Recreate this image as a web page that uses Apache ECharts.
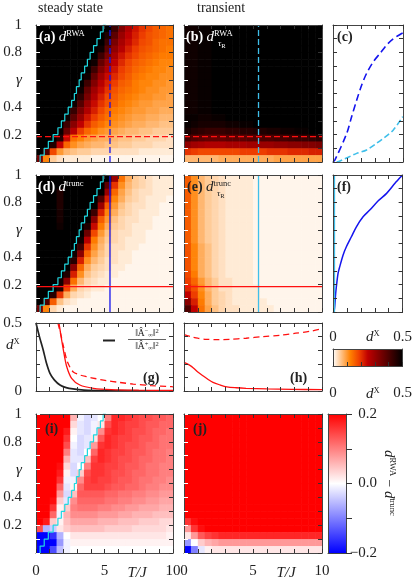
<!DOCTYPE html>
<html>
<head>
<meta charset="utf-8">
<script src="https://cdn.jsdelivr.net/npm/echarts@6/dist/echarts.min.js"></script>
<style>
  html, body { margin: 0; padding: 0; background: #fff; }
  #chart { width: 415px; height: 585px; }
</style>
</head>
<body>
<div id="chart"></div>
<script>
const FONT = 'Liberation Serif';

// heatmap cell centres
const T_CENTERS = [0.25, 0.75, 1.25, 1.75, 2.25, 2.75, 3.25, 3.75, 4.25, 4.75, 5.25, 5.75, 6.25, 6.75, 7.25, 7.75, 8.25, 8.75, 9.25, 9.75];
const G_ROWS = [0.975, 0.925, 0.875, 0.825, 0.775, 0.725, 0.675, 0.625, 0.575, 0.525, 0.475, 0.425, 0.375, 0.325, 0.275, 0.225, 0.175, 0.125, 0.075, 0.025];

// (a) d^RWA steady state, rows top -> bottom, values x100
const D_RWA_SS = [
  [50,50,50,50,50,50,50,50,50,50,50,42,33,27,23,20,18,16,15,14],
  [50,50,50,50,50,50,50,50,50,50,46,38,30,25,22,19,17,16,15,14],
  [50,50,50,50,50,50,50,50,50,50,42,34,28,24,21,18,17,15,14,14],
  [50,50,50,50,50,50,50,50,50,48,38,31,26,22,19,17,16,15,14,13],
  [50,50,50,50,50,50,50,50,50,42,34,28,23,20,18,16,15,14,13,13],
  [50,50,50,50,50,50,50,50,48,37,30,25,21,18,16,15,14,13,12,12],
  [50,50,50,50,50,50,50,50,42,33,27,23,19,17,15,14,13,12,12,11],
  [50,50,50,50,50,50,50,48,37,29,24,21,18,16,14,13,12,12,11,11],
  [50,50,50,50,50,50,50,42,33,26,22,19,16,15,13,12,12,11,11,10],
  [50,50,50,50,50,50,48,37,29,24,20,17,15,14,13,12,11,11,10,10],
  [50,50,50,50,50,50,44,34,27,22,18,16,14,13,12,11,11,10,10,9],
  [50,50,50,50,50,48,39,30,24,20,17,15,13,12,11,10,10,9,9,9],
  [50,50,50,50,50,43,34,27,22,18,15,13,12,11,10,10,9,9,8,8],
  [50,50,50,50,48,38,30,23,19,16,14,12,11,10,9,9,8,8,7,7],
  [50,50,50,50,42,32,25,20,16,14,12,11,10,9,8,8,7,7,6,6],
  [50,50,50,49,36,26,19,15,13,11,10,9,8,7,7,6,6,5,5,5],
  [50,50,50,45,24,14,12,10,9,8,8,7,6,6,5,5,4,4,4,3],
  [50,50,46,25,15,11,9,8,7,7,6,6,5,5,4,4,4,3,3,3],
  [50,40,18,10,7,6,5,5,4,4,4,3,3,3,3,2,2,2,2,2],
  [35,12,5,3,2,2,2,2,1,1,1,1,1,1,1,1,1,1,1,1]
];

// (b) d^RWA transient
const D_RWA_TR = [
  [48,48,49,49,50,50,50,50,50,50,50,50,50,50,50,50,50,50,50,50],
  [48,48,49,49,50,50,50,50,50,50,50,50,50,50,50,50,50,50,50,50],
  [48,48,49,49,50,50,50,50,50,50,50,50,50,50,50,50,50,50,50,50],
  [48,48,49,49,50,50,50,50,50,50,50,50,50,50,50,50,50,50,50,50],
  [48,48,49,49,50,50,50,50,50,50,50,50,50,50,50,50,50,50,50,50],
  [48,48,49,49,50,50,50,50,50,50,50,50,50,50,50,50,50,50,50,50],
  [48,48,49,49,50,50,50,50,50,50,50,50,50,50,50,50,50,50,50,50],
  [48,48,49,49,50,50,50,50,50,50,50,50,50,50,50,50,50,50,50,50],
  [48,48,49,49,50,50,50,50,50,50,50,50,50,50,50,50,50,50,50,50],
  [48,48,49,49,50,50,50,50,50,50,50,50,50,50,50,50,50,50,50,50],
  [48,48,49,49,50,50,50,50,50,50,50,50,50,50,50,50,50,50,50,50],
  [48,48,49,49,50,50,50,50,50,50,50,50,50,50,50,50,50,50,50,50],
  [48,48,49,49,50,50,50,50,50,50,50,50,50,50,50,50,50,50,50,50],
  [49,49,48,48,49,49,50,50,50,50,50,50,50,50,50,50,50,50,50,50],
  [49,48,47,47,47,47,48,48,49,49,50,50,50,50,50,50,50,50,50,50],
  [47,45,44,43,43,43,44,44,45,45,46,46,47,47,48,48,49,49,50,50],
  [41,39,38,37,37,37,38,38,38,39,39,40,40,41,41,42,43,43,44,45],
  [31,29,28,27,27,27,28,28,28,29,29,30,30,31,31,32,32,33,33,34],
  [20,19,18,18,18,18,18,18,19,19,19,19,20,20,20,21,21,21,22,22],
  [7,7,7,7,7,8,8,8,8,8,8,8,8,9,9,9,9,9,9,9]
];

// (d) d^trunc steady state
const D_TRUNC_SS = [
  [50,50,50,50,50,50,50,50,50,50,50,30,14,8,5,4,3,2,2,2],
  [50,50,50,50,50,50,50,50,50,50,38,20,11,7,5,4,3,2,2,2],
  [50,50,50,46,50,50,50,50,50,50,30,15,9,6,4,3,3,2,2,2],
  [50,50,50,46,50,50,50,50,50,40,22,12,8,5,4,3,2,2,2,1],
  [50,50,50,46,50,50,50,50,50,30,16,10,6,4,3,3,2,2,1,1],
  [50,50,50,47,50,50,50,50,42,22,12,8,5,4,3,2,2,2,1,1],
  [50,50,50,47,50,50,50,50,32,16,10,6,4,3,3,2,2,1,1,1],
  [50,50,50,48,50,50,50,46,24,13,8,5,4,3,2,2,2,1,1,1],
  [50,50,50,50,50,50,50,36,18,10,6,4,3,3,2,2,1,1,1,1],
  [50,50,50,50,50,50,48,26,13,8,5,4,3,2,2,2,1,1,1,1],
  [50,50,50,50,50,50,42,20,11,7,4,3,3,2,2,1,1,1,1,1],
  [50,50,50,50,50,48,32,15,9,6,4,3,2,2,1,1,1,1,1,1],
  [50,50,50,50,50,45,22,11,7,5,3,3,2,2,1,1,1,1,1,1],
  [50,50,50,50,50,32,15,8,5,4,3,2,2,1,1,1,1,1,1,1],
  [50,50,50,50,46,22,11,6,4,3,2,2,1,1,1,1,1,1,1,1],
  [50,50,50,48,32,14,7,4,3,2,2,1,1,1,1,1,1,1,1,1],
  [50,50,50,46,18,8,4,3,2,2,1,1,1,1,1,1,1,1,1,1],
  [50,50,45,20,8,4,3,2,1,1,1,1,1,1,1,1,1,1,1,1],
  [50,40,16,6,3,2,1,1,1,1,1,1,1,1,1,1,1,1,1,1],
  [35,12,4,2,1,1,1,1,1,1,1,1,1,1,1,1,1,1,1,1]
];

// (e) d^trunc transient
const D_TRUNC_TR = [
  [16,11,7,5,4,3,2,2,2,2,1,1,1,1,1,1,1,1,1,1],
  [16,11,7,5,4,3,2,2,2,2,1,1,1,1,1,1,1,1,1,1],
  [16,11,7,5,4,3,2,2,2,2,1,1,1,1,1,1,1,1,1,1],
  [16,11,7,5,4,3,2,2,2,2,1,1,1,1,1,1,1,1,1,1],
  [16,11,7,5,4,3,2,2,2,2,1,1,1,1,1,1,1,1,1,1],
  [16,11,7,5,4,3,2,2,2,2,1,1,1,1,1,1,1,1,1,1],
  [16,11,7,5,4,3,2,2,2,2,1,1,1,1,1,1,1,1,1,1],
  [16,11,7,5,4,3,2,2,2,2,1,1,1,1,1,1,1,1,1,1],
  [16,11,7,5,4,3,2,2,2,2,1,1,1,1,1,1,1,1,1,1],
  [16,11,7,5,4,3,2,2,2,2,1,1,1,1,1,1,1,1,1,1],
  [17,12,8,6,4,3,2,2,2,2,1,1,1,1,1,1,1,1,1,1],
  [17,12,8,6,4,3,2,2,2,2,1,1,1,1,1,1,1,1,1,1],
  [17,12,8,6,4,3,2,2,2,2,1,1,1,1,1,1,1,1,1,1],
  [17,12,8,6,4,3,2,2,2,2,1,1,1,1,1,1,1,1,1,1],
  [18,13,8,6,4,3,2,2,2,2,1,1,1,1,1,1,1,1,1,1],
  [19,15,10,7,5,3,3,2,2,2,1,1,1,1,1,1,1,1,1,1],
  [21,17,11,7,5,3,3,2,2,2,2,1,1,1,1,1,1,1,1,1],
  [25,19,12,8,5,4,3,2,2,2,2,1,1,1,1,1,1,1,1,1],
  [32,22,13,8,5,4,3,2,2,2,2,2,1,1,1,1,1,1,1,1],
  [40,25,14,9,6,4,3,3,2,2,2,2,2,1,1,1,1,1,1,1]
];

// (i) d^RWA - d^trunc steady state, x100
const DIFF_SS = [
  [20,20,20,20,20,6,-1,-3,-2,0,10,17,17,16,15,14,14,13,13,12],
  [20,20,20,20,20,3,-2,-3,-1,2,14,17,16,15,15,14,13,13,12,12],
  [20,20,20,20,18,1,-2,-3,-1,9,16,17,16,15,14,14,13,12,12,11],
  [20,20,20,20,16,0,-3,-2,2,13,17,16,15,15,14,13,13,12,11,11],
  [20,20,20,20,14,-1,-3,-2,8,16,17,16,15,14,14,13,12,12,11,11],
  [20,20,20,20,10,-2,-3,0,12,17,16,15,15,14,13,13,12,11,11,10],
  [20,20,20,20,6,-2,-2,5,15,17,16,15,14,14,13,12,12,11,11,10],
  [20,20,20,19,3,-3,0,10,16,16,15,15,14,13,13,12,11,11,10,10],
  [20,20,20,18,1,-3,4,14,16,16,15,14,14,13,12,12,11,11,10,10],
  [20,20,20,16,-1,-1,9,15,16,15,15,14,13,13,12,11,11,10,10,9],
  [20,20,20,12,-2,1,12,15,15,15,14,13,13,12,12,11,10,10,9,9],
  [20,20,20,8,-3,5,13,13,13,13,12,12,11,11,10,10,9,9,8,8],
  [20,20,19,4,-2,9,12,12,12,12,11,11,10,10,9,9,8,8,7,7],
  [20,20,16,1,4,10,11,11,11,10,10,9,9,8,8,7,7,7,6,6],
  [20,20,12,-1,6,9,9,9,9,8,8,8,7,7,6,6,6,5,5,5],
  [20,18,4,1,5,7,7,7,7,6,6,6,5,5,5,4,4,4,3,3],
  [14,-6,-4,2,4,5,5,5,5,5,4,4,4,4,3,3,3,3,3,2],
  [-20,-20,-16,-6,0,2,2,2,2,2,2,2,2,2,2,2,2,2,2,1],
  [-20,-20,-20,-8,-1,1,1,1,1,1,1,1,1,1,1,1,1,1,1,1],
  [-20,-20,-14,-5,-1,0,0,0,0,0,0,0,0,0,0,0,0,0,0,0]
];

// (j) d^RWA - d^trunc transient
const DIFF_TR = [
  [20,20,20,20,20,20,20,20,20,20,20,20,20,20,20,20,20,20,20,20],
  [20,20,20,20,20,20,20,20,20,20,20,20,20,20,20,20,20,20,20,20],
  [20,20,20,20,20,20,20,20,20,20,20,20,20,20,20,20,20,20,20,20],
  [20,20,20,20,20,20,20,20,20,20,20,20,20,20,20,20,20,20,20,20],
  [20,20,20,20,20,20,20,20,20,20,20,20,20,20,20,20,20,20,20,20],
  [20,20,20,20,20,20,20,20,20,20,20,20,20,20,20,20,20,20,20,20],
  [20,20,20,20,20,20,20,20,20,20,20,20,20,20,20,20,20,20,20,20],
  [20,20,20,20,20,20,20,20,20,20,20,20,20,20,20,20,20,20,20,20],
  [20,20,20,20,20,20,20,20,20,20,20,20,20,20,20,20,20,20,20,20],
  [20,20,20,20,20,20,20,20,20,20,20,20,20,20,20,20,20,20,20,20],
  [20,20,20,20,20,20,20,20,20,20,20,20,20,20,20,20,20,20,20,20],
  [20,20,20,20,20,20,20,20,20,20,20,20,20,20,20,20,20,20,20,20],
  [20,20,20,20,20,20,20,20,20,20,20,20,20,20,20,20,20,20,20,20],
  [20,20,20,20,20,20,20,20,20,20,20,20,20,20,20,20,20,20,20,20],
  [20,20,20,20,20,20,20,20,20,20,20,20,20,20,20,20,20,20,20,20],
  [16,19,20,20,20,20,20,20,20,20,20,20,20,20,20,20,20,20,20,20],
  [8,16,19,20,20,20,20,20,20,20,20,20,20,20,20,20,20,20,20,20],
  [2,8,13,15,16,17,17,17,17,17,17,17,17,17,17,17,17,17,17,17],
  [-8,0,4,6,7,8,8,8,8,8,8,8,8,8,8,8,8,8,8,8],
  [-20,-10,-2,1,2,2,2,2,2,2,2,2,2,2,2,2,2,2,2,2]
];

// cuts
const T_CUT = 5.4;
const G_CUT = 0.185;

// boundary (cyan) line
const BOUND_T = [0.3, 0.6, 0.9, 1.25, 1.6, 1.85, 2.1, 2.35, 2.6, 2.8, 2.95, 3.15, 3.3, 3.55, 3.75, 3.95, 4.2, 4.45, 4.7, 4.9, 5.1];
const BOUND_G = [0, 0.05, 0.1, 0.15, 0.2, 0.25, 0.3, 0.35, 0.4, 0.45, 0.5, 0.55, 0.6, 0.65, 0.7, 0.75, 0.8, 0.85, 0.9, 0.95, 1.0];

// (c) profiles along T = T_CUT
const C_RWA_SS_D = [0, 0.014, 0.098, 0.133, 0.169, 0.205, 0.240, 0.288, 0.336, 0.383, 0.431, 0.49, 0.5];
const C_RWA_SS_G = [0, 0.015, 0.209, 0.33, 0.451, 0.562, 0.647, 0.732, 0.793, 0.854, 0.900, 0.938, 0.945];
const C_RWA_TR_D = [0.026, 0.05, 0.169, 0.24, 0.31, 0.369, 0.431, 0.498];
const C_RWA_TR_G = [0, 0.007, 0.063, 0.088, 0.136, 0.18, 0.234, 0.331];

// (f) profiles along T = T_CUT
const F_TRUNC_SS_D = [0.007, 0.012, 0.019, 0.024, 0.036, 0.048, 0.072, 0.096, 0.132, 0.168, 0.216, 0.264, 0.325, 0.385, 0.445, 0.493, 0.5];
const F_TRUNC_SS_G = [0, 0.037, 0.134, 0.183, 0.28, 0.329, 0.415, 0.476, 0.549, 0.622, 0.695, 0.744, 0.812, 0.866, 0.939, 0.993, 1.0];
const F_TRUNC_TR_D = [0.01, 0.01];
const F_TRUNC_TR_G = [0, 1];

// (g) profiles along gamma = G_CUT, steady state
const G_RATIO_T = [0, 0.25, 0.53, 0.75, 1.02, 1.35, 1.75, 2.2, 2.7, 3.5, 5, 7.5, 10];
const G_RATIO_D = [0.5, 0.4, 0.3, 0.21, 0.13, 0.08, 0.044, 0.025, 0.015, 0.007, 0.003, 0.002, 0.001];
const G_TRUNC_T = [1.68, 1.8, 2.0, 2.24, 2.6, 3.2, 4.2, 5.5, 7.5, 10];
const G_TRUNC_D = [0.5, 0.42, 0.30, 0.18, 0.093, 0.044, 0.02, 0.01, 0.006, 0.004];
const G_RWA_T = [1.6, 1.8, 2.0, 2.24, 2.45, 2.72, 3.2, 3.7, 4.4, 5.16, 6.1, 7.1, 8.4, 9.8, 10];
const G_RWA_D = [0.5, 0.42, 0.33, 0.23, 0.18, 0.14, 0.118, 0.105, 0.09, 0.076, 0.063, 0.051, 0.04, 0.032, 0.031];

// (h) profiles along gamma = G_CUT, transient
const H_RWA_T = [0, 0.5, 1, 1.6, 2.5, 3.3, 4.5, 5.7, 7, 8.1, 9.2, 10];
const H_RWA_D = [0.415, 0.4, 0.388, 0.38, 0.378, 0.38, 0.388, 0.4, 0.41, 0.425, 0.44, 0.458];
const H_TRUNC_T = [0, 0.4, 0.68, 1.0, 1.4, 1.75, 2.1, 2.6, 3.1, 3.8, 4.5, 6, 7.8, 10];
const H_TRUNC_D = [0.21, 0.19, 0.17, 0.14, 0.11, 0.085, 0.063, 0.045, 0.031, 0.024, 0.02, 0.015, 0.012, 0.01];

// gist_heat_r and bwr
const HEAT_COLORS = ['#ffffff', '#ffbf80', '#ff8000', '#ef4000', '#bf0000', '#8f0000', '#600000', '#300000', '#000000'];
const DIFF_COLORS = ['#0000ff', '#ffffff', '#ff0000'];

const CYAN = '#1fd8e0', SKY = '#3fbfea', BLUE = '#1414ee', RED = '#ff1010', INK = '#222';

const chart = echarts.init(document.getElementById('chart'), null, { renderer: 'canvas' });

const grids = [], xAxes = [], yAxes = [], series = [];
const r1 = v => Math.round(v * 100) / 100;

function tick(color, show, inside, len) {
  return { show: show !== false, inside: inside !== false, length: len || 4, lineStyle: { color, width: 1 } };
}

function addPanel(box, xr, yr, o) {
  o = o || {};
  const gi = grids.length;
  grids.push({ left: box[0], top: box[1], width: box[2], height: box[3] });
  const base = {
    type: 'value', gridIndex: gi, z: 10, splitLine: { show: false },
    axisLine: { show: true, onZero: false, lineStyle: { color: '#444', width: 1 } }
  };
  const xb = { ...base, min: xr[0], max: xr[1], interval: xr[2] };
  const yb = { ...base, min: yr[0], max: yr[1], interval: yr[2] };
  xAxes.push({ ...xb, position: 'bottom', axisTick: o.bTick || tick('#333'), axisLabel: o.xLabel || { show: false } });
  xAxes.push({ ...xb, position: 'top', axisTick: o.tTick || tick('#333'), axisLabel: { show: false } });
  yAxes.push({ ...yb, position: 'left', axisTick: o.lTick || tick('#333'), axisLabel: o.yLabel || { show: false } });
  yAxes.push({ ...yb, position: 'right', axisTick: o.rTick || tick('#333'), axisLabel: o.rLabel || { show: false } });
  return { xi: xAxes.length - 2, yi: yAxes.length - 2 };
}

const yLabelGamma = {
  show: true, margin: 14, color: INK, fontFamily: FONT, fontSize: 15,
  formatter: v => {
    const r = r1(v);
    if (r === 0.2 || r === 0.4 || r === 0.8) return String(r);
    if (r === 0.6) return '{g|γ}';
    if (r === 1) return '1';
    return '';
  },
  rich: { g: { fontStyle: 'italic', fontFamily: FONT, fontSize: 15, color: INK } }
};
const xLabelT = {
  show: true, margin: 11, color: INK, fontFamily: FONT, fontSize: 15,
  formatter: v => (v === 0 ? '0' : v === 5 ? '5' : v === 10 ? '10' : '')
};
const xLabelD = (margin) => ({
  show: true, margin, color: INK, fontFamily: FONT, fontSize: 15,
  formatter: v => (r1(v) === 0 ? '0' : r1(v) === 0.5 ? '0.5' : '')
});
const yLabelG = {
  show: true, margin: 14, color: INK, fontFamily: FONT, fontSize: 15,
  formatter: v => (r1(v) === 0 ? '0' : r1(v) === 0.5 ? '0.5' : '')
};

const CELL_DT = 0.5, CELL_DG = 0.05;
function cellRender(params, api) {
  const t = api.value(0), g = api.value(1);
  const p0 = api.coord([t - CELL_DT / 2, g + CELL_DG / 2]);
  const p1 = api.coord([t + CELL_DT / 2, g - CELL_DG / 2]);
  return {
    type: 'rect',
    shape: { x: p0[0], y: p0[1], width: p1[0] - p0[0] + 0.6, height: p1[1] - p0[1] + 0.6 },
    style: { fill: api.visual('color') }
  };
}

function heatSeries(ax, rows) {
  const data = [];
  rows.forEach((row, r) => row.forEach((v, c) => data.push([T_CENTERS[c], G_ROWS[r], v / 100])));
  series.push({
    type: 'custom', xAxisIndex: ax.xi, yAxisIndex: ax.yi, data, renderItem: cellRender,
    encode: { x: 0, y: 1 }, z: 1, silent: true, animation: false
  });
  return series.length - 1;
}

function lineSeries(ax, data, color, width, dash, extra) {
  series.push(Object.assign({
    type: 'line', xAxisIndex: ax.xi, yAxisIndex: ax.yi, data, symbol: 'none', showSymbol: false,
    clip: true, z: 4, silent: true, animation: false,
    lineStyle: { color, width, type: dash || 'solid' }
  }, extra || {}));
}

const zipXY = (xs, ys) => xs.map((x, i) => [x, ys[i]]);
const vCut = [[T_CUT, 0], [T_CUT, 1]];
const hCut = [[0, G_CUT], [10, G_CUT]];
const bound = zipXY(BOUND_T, BOUND_G);

const TX = [0, 10, 1], GY = [0, 1, 0.1], DX = [0, 0.5, 0.1];
const whiteL = tick('#fff');

// panels
const A = addPanel([36, 25, 137, 137], TX, GY, { lTick: whiteL, yLabel: yLabelGamma });
const B = addPanel([184, 25, 138, 137], TX, GY, { lTick: whiteL });
const C = addPanel([333, 25, 70, 137], DX, GY);
const D = addPanel([36, 175, 137, 137], TX, GY, { lTick: whiteL, yLabel: yLabelGamma });
const E = addPanel([184, 175, 138, 137], TX, GY, { lTick: whiteL });
const F = addPanel([333, 175, 70, 137], DX, GY, { xLabel: xLabelD(18) });
const G = addPanel([36, 323, 137, 68], TX, [0, 0.5, 0.1], { yLabel: yLabelG });
const H = addPanel([184, 323, 138, 68], TX, [0, 0.5, 0.1]);
const I = addPanel([36, 414, 137, 139], TX, GY, { lTick: whiteL, yLabel: yLabelGamma, xLabel: xLabelT });
const J = addPanel([184, 414, 138, 139], TX, GY, { lTick: whiteL, xLabel: xLabelT });
const noT = tick('#333', false);
const CB1 = addPanel([333, 349, 70, 17], DX, [0, 1, 1], { tTick: noT, lTick: noT, rTick: noT, xLabel: xLabelD(20) });
const CB2 = addPanel([328, 414, 18, 139], [0, 1, 1], [-0.2, 0.2, 0.1], {
  bTick: noT, tTick: noT, lTick: noT, rTick: tick('#333', true, false, 6),
  rLabel: {
    show: true, margin: 31, align: 'right', color: INK, fontFamily: FONT, fontSize: 15,
    formatter: v => (r1(v) === 0.2 ? '0.2' : r1(v) === 0 ? '0.0' : r1(v) === -0.2 ? '−0.2' : '')
  }
});

// heatmaps
const heatIdx = [heatSeries(A, D_RWA_SS), heatSeries(B, D_RWA_TR), heatSeries(D, D_TRUNC_SS), heatSeries(E, D_TRUNC_TR)];
const diffIdx = [heatSeries(I, DIFF_SS), heatSeries(J, DIFF_TR)];

// overlays
lineSeries(A, bound, CYAN, 1.2, 'solid', { step: 'start' });
lineSeries(A, vCut, BLUE, 1.3, [6, 3]);
lineSeries(A, hCut, RED, 1.3, [6, 3]);
lineSeries(B, vCut, SKY, 1.3, [6, 3]);
lineSeries(B, hCut, RED, 1.3, [6, 3]);
lineSeries(C, zipXY(C_RWA_SS_D, C_RWA_SS_G), BLUE, 1.6, [7, 4], { smooth: 0.3 });
lineSeries(C, zipXY(C_RWA_TR_D, C_RWA_TR_G), SKY, 1.6, [6, 3], { smooth: 0.3 });
lineSeries(D, bound, CYAN, 1.2, 'solid', { step: 'start' });
lineSeries(D, vCut, BLUE, 1.3);
lineSeries(D, hCut, RED, 1.3);
lineSeries(E, vCut, SKY, 1.3);
lineSeries(E, hCut, RED, 1.3);
lineSeries(F, zipXY(F_TRUNC_SS_D, F_TRUNC_SS_G), BLUE, 1.5, 'solid', { smooth: 0.3 });
lineSeries(F, zipXY(F_TRUNC_TR_D, F_TRUNC_TR_G), SKY, 1.5);
lineSeries(G, zipXY(G_RATIO_T, G_RATIO_D), INK, 1.7, 'solid', { smooth: 0.3 });
lineSeries(G, zipXY(G_TRUNC_T, G_TRUNC_D), RED, 1.3, 'solid', { smooth: 0.3 });
lineSeries(G, zipXY(G_RWA_T, G_RWA_D), RED, 1.3, [6, 4], { smooth: 0.3 });
lineSeries(H, zipXY(H_RWA_T, H_RWA_D), RED, 1.3, [6, 4], { smooth: 0.3 });
lineSeries(H, zipXY(H_TRUNC_T, H_TRUNC_D), RED, 1.3, 'solid', { smooth: 0.3 });
lineSeries(I, bound, CYAN, 1.2, 'solid', { step: 'start' });

// colorbars
function barRender(colors, horizontal) {
  return (params, api) => {
    const p0 = api.coord([api.value(0), api.value(3)]);
    const p1 = api.coord([api.value(2), api.value(1)]);
    const stops = colors.map((c, i) => ({ offset: i / (colors.length - 1), color: c }));
    const grad = horizontal
      ? new echarts.graphic.LinearGradient(0, 0, 1, 0, stops)
      : new echarts.graphic.LinearGradient(0, 1, 0, 0, stops);
    return { type: 'rect', shape: { x: p0[0], y: p0[1], width: p1[0] - p0[0], height: p1[1] - p0[1] }, style: { fill: grad } };
  };
}
series.push({ type: 'custom', xAxisIndex: CB1.xi, yAxisIndex: CB1.yi, data: [[0, 0, 0.5, 1]], encode: { x: [0, 2], y: [1, 3] }, renderItem: barRender(HEAT_COLORS, true), z: 1, silent: true, animation: false });
series.push({ type: 'custom', xAxisIndex: CB2.xi, yAxisIndex: CB2.yi, data: [[0, -0.2, 1, 0.2]], encode: { x: [0, 2], y: [1, 3] }, renderItem: barRender(DIFF_COLORS, false), z: 1, silent: true, animation: false });

// texts
const RICH = {
  b: { fontFamily: FONT, fontSize: 14, fontWeight: 'bold', lineHeight: 16 },
  i: { fontFamily: FONT, fontSize: 15, fontStyle: 'italic', lineHeight: 16 },
  n: { fontFamily: FONT, fontSize: 14, lineHeight: 16 },
  s: { fontFamily: FONT, fontSize: 8.5, lineHeight: 9, verticalAlign: 'top' },
  si: { fontFamily: FONT, fontSize: 9, fontStyle: 'italic', lineHeight: 12 },
  sr: { fontFamily: FONT, fontSize: 6.5, lineHeight: 7, verticalAlign: 'bottom' },
  t: { fontFamily: FONT, fontSize: 9.5, lineHeight: 11 },
  p: { fontFamily: FONT, fontSize: 6.5, lineHeight: 7, verticalAlign: 'top' },
  q: { fontFamily: FONT, fontSize: 6.5, lineHeight: 7, verticalAlign: 'bottom' }
};
function txt(x, y, text, o) {
  return Object.assign({
    type: 'text', x, y, z: 100, silent: true,
    style: Object.assign({ text, fontFamily: FONT, fontSize: 14, fill: INK, align: 'left', verticalAlign: 'middle', rich: RICH }, o && o.style)
  }, o && o.el);
}
const W = { style: { fill: '#fff' } };
const graphic = [
  txt(38, 8, 'steady state'),
  txt(197, 8, 'transient'),
  txt(39, 37, '{b|(a)} {i|d}{s|RWA}', W),
  txt(186, 37, '{b|(b)} {i|d}{s|RWA}', W),
  txt(218, 44, '{si|τ}{sr|R}', W),
  txt(337, 37, '{b|(c)}'),
  txt(38, 187, '{b|(d)} {i|d}{s|trunc}', W),
  txt(187, 187, '{b|(e)} {i|d}{s|trunc}'),
  txt(217, 194, '{si|τ}{sr|R}'),
  txt(337, 187, '{b|(f)}'),
  txt(143, 378, '{b|(g)}'),
  txt(290, 378, '{b|(h)}'),
  txt(45, 429, '{b|(i)}'),
  txt(193, 429, '{b|(j)}'),
  txt(6, 345, '{i|d}{s|X}'),
  txt(366, 337, '{i|d}{s|X}'),
  txt(366, 394, '{i|d}{s|X}'),
  txt(137, 573, '{i|T/J}', { style: { align: 'center' } }),
  txt(286, 573, '{i|T/J}', { style: { align: 'center' } }),
  txt(389, 483, '{i|d}{s|RWA}{n| − }{i|d}{s|trunc}', { style: { align: 'center' }, el: { rotation: -Math.PI / 2 } }),
  { type: 'line', z: 100, silent: true, shape: { x1: 103, y1: 340.5, x2: 115, y2: 340.5 }, style: { stroke: INK, lineWidth: 2 } },
  txt(147, 333, '{t|‖Â}{p|−}{q|∞}{t|‖}{p|2}', { style: { align: 'center' } }),
  { type: 'line', z: 100, silent: true, shape: { x1: 128, y1: 339.5, x2: 166, y2: 339.5 }, style: { stroke: INK, lineWidth: 0.7 } },
  txt(147, 346.5, '{t|‖Â}{p|+}{q|∞}{t|‖}{p|2}', { style: { align: 'center' } })
];

chart.setOption({
  animation: false,
  grid: grids,
  xAxis: xAxes,
  yAxis: yAxes,
  visualMap: [
    { type: 'continuous', show: false, seriesIndex: heatIdx, dimension: 2, min: 0, max: 0.5, inRange: { color: HEAT_COLORS } },
    { type: 'continuous', show: false, seriesIndex: diffIdx, dimension: 2, min: -0.2, max: 0.2, inRange: { color: DIFF_COLORS } }
  ],
  series,
  graphic
});
</script>
</body>
</html>
